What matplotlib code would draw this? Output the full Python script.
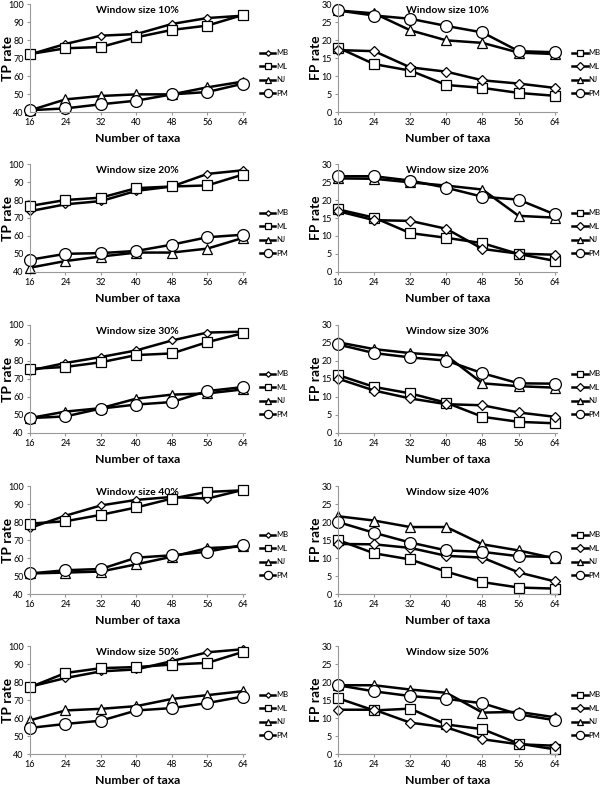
import numpy as np
import matplotlib
matplotlib.use("Agg")
import matplotlib.pyplot as plt

plt.rcParams['font.family'] = ['Lato', 'DejaVu Sans']

# Datos
taxa = [16, 24, 32, 40, 48, 56, 64]
windows = ['10%', '20%', '30%', '40%', '50%']

# TP rate por metodo, una fila por tamano de ventana
tp_mb = [[72.0, 77.8, 82.4, 83.3, 88.9, 92.2, 93.5],
         [73.8, 77.6, 79.4, 85.1, 87.5, 94.5, 96.5],
         [74.7, 78.9, 82.2, 85.9, 91.4, 95.8, 96.3],
         [76.7, 83.5, 89.2, 92.3, 93.9, 93.0, 97.8],
         [77.4, 82.2, 85.9, 87.0, 91.6, 96.5, 98.2]]
tp_ml = [[72.2, 75.4, 76.1, 81.5, 85.6, 88.0, 93.9],
         [76.7, 80.0, 81.3, 86.6, 87.5, 88.1, 94.1],
         [75.6, 76.7, 79.3, 83.3, 84.2, 90.5, 95.4],
         [79.1, 80.4, 84.0, 88.1, 93.0, 96.7, 97.6],
         [77.1, 85.0, 87.7, 88.3, 89.7, 90.6, 96.7]]
tp_nj = [[40.9, 47.0, 48.9, 49.8, 49.8, 53.7, 56.9],
         [42.4, 46.1, 48.6, 50.8, 50.8, 53.0, 58.9],
         [48.3, 51.9, 53.8, 59.1, 61.3, 62.0, 64.2],
         [51.4, 51.9, 52.5, 56.5, 60.7, 65.5, 66.4],
         [58.7, 64.2, 65.1, 66.6, 70.6, 72.7, 74.9]]
tp_pm = [[41.0, 42.0, 44.3, 46.3, 49.8, 51.1, 55.7],
         [46.8, 50.1, 50.5, 51.7, 55.2, 59.3, 60.7],
         [48.3, 49.2, 53.6, 55.8, 57.2, 63.3, 65.5],
         [51.4, 53.2, 53.9, 60.2, 61.5, 63.5, 67.2],
         [54.5, 56.7, 58.5, 64.2, 65.5, 68.3, 71.9]]

# FP rate (en la leyenda original MB va con cuadrado y ML con rombo)
fp_mb = [[17.9, 13.3, 11.5, 7.5, 6.7, 5.3, 4.5],
         [17.4, 15.1, 10.8, 9.5, 8.0, 5.0, 3.1],
         [16.1, 12.8, 11.0, 8.4, 4.5, 3.1, 2.7],
         [15.0, 11.3, 9.6, 6.2, 3.3, 1.8, 1.5],
         [15.5, 12.1, 12.6, 8.2, 6.9, 2.9, 1.3]]
fp_ml = [[17.2, 16.9, 12.4, 11.2, 8.8, 7.9, 6.7],
         [16.9, 14.4, 14.2, 12.0, 6.4, 5.1, 4.8],
         [15.1, 11.8, 9.6, 8.0, 7.7, 5.7, 4.5],
         [13.9, 13.8, 12.8, 10.6, 10.1, 6.0, 3.5],
         [12.3, 12.3, 8.7, 7.4, 4.1, 2.7, 2.3]]
fp_nj = [[28.2, 27.4, 22.7, 19.9, 19.2, 16.5, 16.1],
         [26.0, 25.9, 24.9, 24.0, 22.9, 15.6, 15.1],
         [25.2, 23.3, 22.2, 21.5, 13.8, 13.0, 12.6],
         [21.6, 20.4, 18.6, 18.6, 13.8, 12.1, 9.9],
         [19.1, 19.1, 17.9, 17.0, 11.5, 11.7, 10.2]]
fp_pm = [[28.2, 26.8, 25.9, 23.9, 22.1, 16.9, 16.6],
         [26.6, 26.6, 25.4, 23.4, 20.9, 20.1, 16.0],
         [24.6, 22.2, 21.0, 20.1, 16.6, 13.8, 13.7],
         [20.0, 17.0, 14.3, 12.1, 11.7, 10.5, 10.3],
         [19.1, 17.4, 16.1, 15.3, 14.1, 11.0, 9.4]]


def dibujar(ax, series, ylim, yticks, ylabel, titulo, ancho):
  for datos, marcador, tam, etiqueta in series:
    ax.plot(taxa, datos, color='black', linewidth=1.8,
            marker=marcador, markersize=tam,
            markerfacecolor='white', markeredgecolor='black',
            markeredgewidth=0.9, label=etiqueta, clip_on=False)
  ax.set_xlim(16, 64.5)
  ax.set_ylim(*ylim)
  ax.set_xticks(taxa)
  ax.set_yticks(yticks)
  ax.tick_params(labelsize=6.5, length=2.5, color='#999999', pad=2)
  for lado in ['top', 'right']:
    ax.spines[lado].set_visible(False)
  for lado in ['left', 'bottom']:
    ax.spines[lado].set_color('#999999')
    ax.spines[lado].set_linewidth(0.8)
  ax.set_ylabel(ylabel, fontsize=10, fontweight='bold')
  ax.yaxis.set_label_coords(-16.0 / ancho, 0.5)
  ax.set_xlabel(u"Number of taxa", fontsize=8.8, fontweight='bold', labelpad=4)
  ax.text(0.5, 0.985, titulo, transform=ax.transAxes, ha='center', va='top',
          fontsize=7.5, fontweight='bold')
  leg = ax.legend(loc='center left', bbox_to_anchor=(1.07, 0.36), frameon=False,
                  fontsize=5.5, handlelength=2.0, labelspacing=0.85,
                  handletextpad=0.1, borderaxespad=0, borderpad=0)
  for h in leg.legend_handles:
    h.set_markersize(h.get_markersize() * 0.7)


fig = plt.figure(figsize=(6, 7.85), dpi=100)
W, H = 600.0, 785.0
tops = [4, 164, 325, 486, 646]
alto = 108

for i in range(5):
  ax1 = fig.add_axes([30 / W, 1 - (tops[i] + alto) / H, 215 / W, alto / H])
  dibujar(ax1,
          [(tp_mb[i], 'D', 4, 'MB'), (tp_ml[i], 's', 6.5, 'ML'),
           (tp_nj[i], '^', 6.5, 'NJ'), (tp_pm[i], 'o', 8.5, 'PM')],
          (40, 100), range(40, 101, 10), u"TP rate",
          u"Window size " + windows[i], 215.0)

  ax2 = fig.add_axes([338 / W, 1 - (tops[i] + alto) / H, 219 / W, alto / H])
  dibujar(ax2,
          [(fp_mb[i], 's', 6.5, 'MB'), (fp_ml[i], 'D', 5.5, 'ML'),
           (fp_nj[i], '^', 6.5, 'NJ'), (fp_pm[i], 'o', 8.5, 'PM')],
          (0, 30), range(0, 31, 5), u"FP rate",
          u"Window size " + windows[i], 219.0)

plt.savefig('out.png', dpi=100)
